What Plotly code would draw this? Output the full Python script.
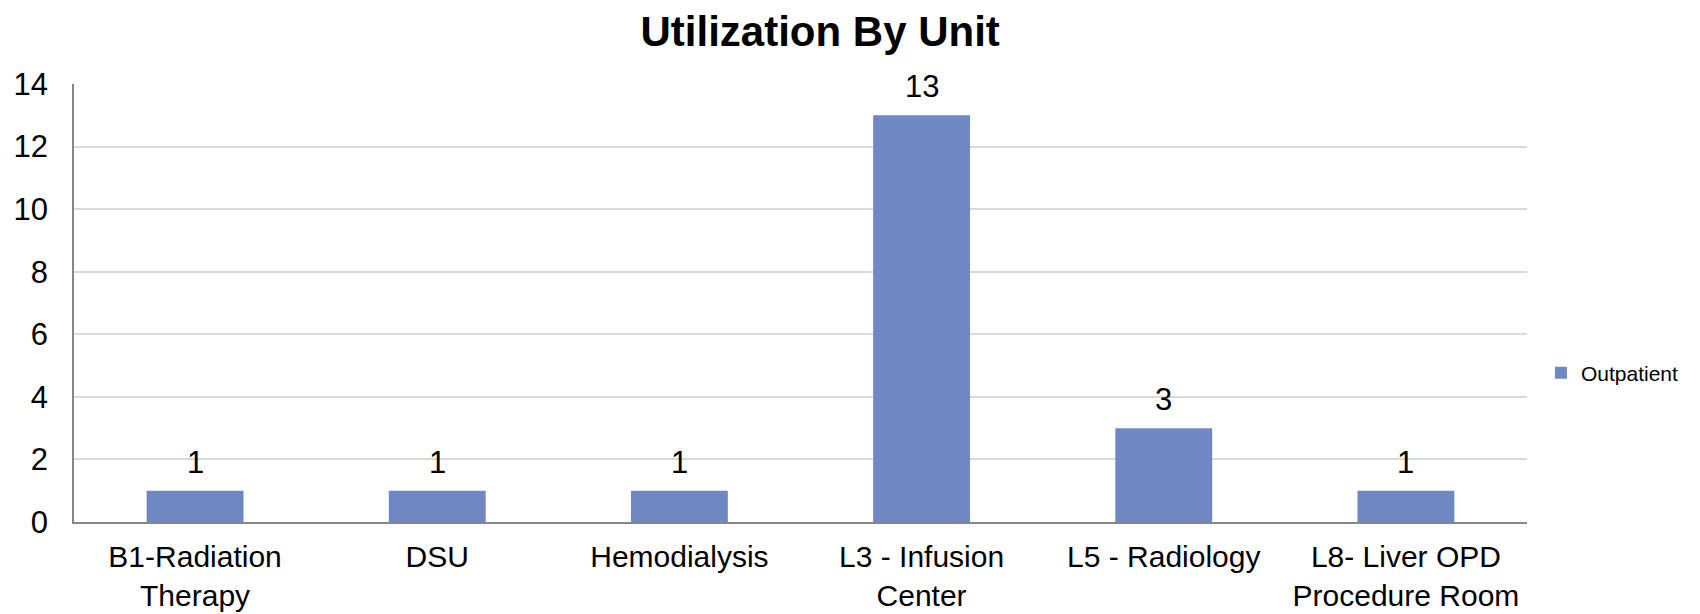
import plotly.graph_objects as go

units = ["B1-Radiation<br>Therapy", "DSU", "Hemodialysis", "L3 - Infusion<br>Center",
         "L5 - Radiology", "L8- Liver OPD<br>Procedure Room"]
outpatient = [1, 1, 1, 13, 3, 1]
y_ticks = [0, 2, 4, 6, 8, 10, 12, 14]

font = "Arial, Liberation Sans, sans-serif"

fig = go.Figure()
fig.add_trace(go.Bar(x=units, y=outpatient, name="Outpatient", width=0.4,
                     marker=dict(color="#6F88C3", line=dict(width=0))))

# value labels above bars
for u, v in zip(units, outpatient):
    fig.add_annotation(x=u, y=v, text=str(v), showarrow=False, yanchor="bottom",
                       yshift=9, font=dict(family=font, size=31, color="black"))

# page body has an 8px margin, so the figure is a bit smaller than the window
fig.update_layout(
    width=1692, height=606,
    paper_bgcolor="white", plot_bgcolor="white",
    margin=dict(l=66, r=173, t=76, b=92, autoexpand=False),
    title=dict(text="<b>Utilization By Unit</b>", x=0.480, xanchor="center",
               y=0.962, yanchor="middle", yref="container",
               font=dict(family=font, size=42, color="black")),
    showlegend=True,
    legend=dict(x=1.0096, y=0.34, xanchor="left", yanchor="middle",
                font=dict(family=font, size=21, color="black"), itemwidth=30),
    font=dict(family=font, color="black"),
)
fig.update_xaxes(showline=True, linecolor="#868686", linewidth=1.5, showgrid=False,
                 ticks="", tickfont=dict(size=30), ticklabelstandoff=7, automargin=False)
fig.update_yaxes(range=[0, 14], tickvals=y_ticks, showline=True, linecolor="#868686",
                 linewidth=1.5, gridcolor="#D9D9D9", gridwidth=1.5, zeroline=False,
                 ticks="", tickfont=dict(size=31), ticklabelstandoff=18, automargin=False)

fig.write_html("out.html")
